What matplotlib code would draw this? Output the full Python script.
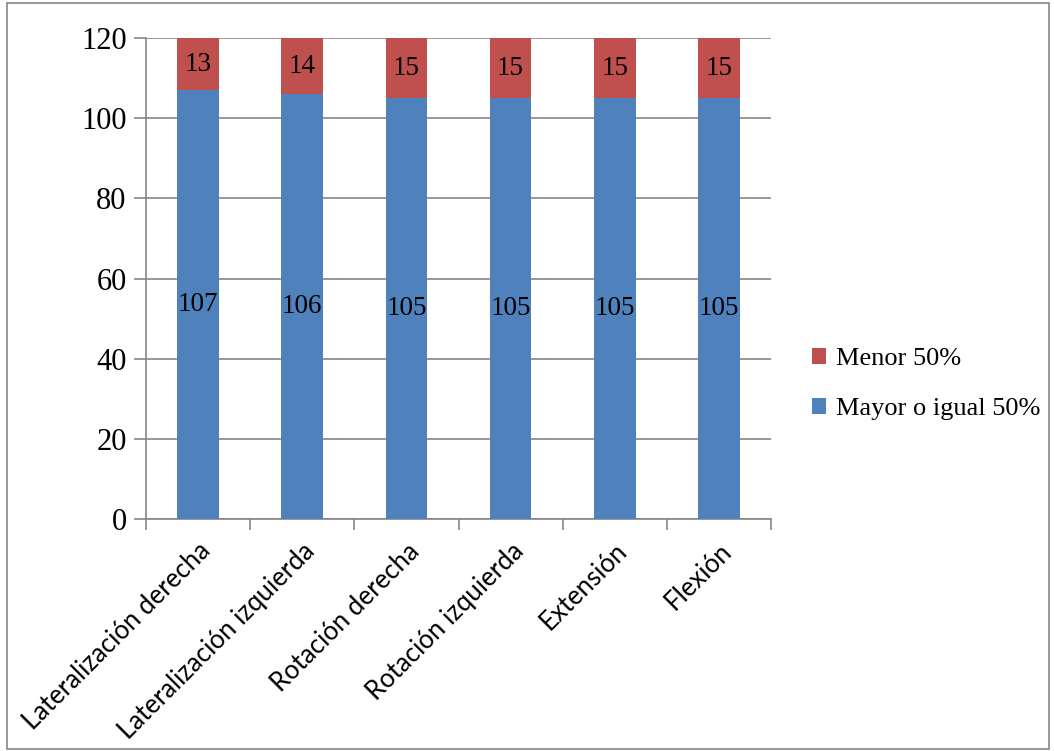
import matplotlib.pyplot as plt
import numpy as np

categorias = ['Lateralización derecha', 'Lateralización izquierda', 'Rotación derecha',
              'Rotación izquierda', 'Extensión', 'Flexión']
mayor = [107, 106, 105, 105, 105, 105]
menor = [13, 14, 15, 15, 15, 15]

azul = '#4F81BD'
rojo = '#C0504D'
gris = '#868686'

fig = plt.figure(figsize=(10.54, 7.51), dpi=100)
ax = fig.add_axes([146 / 1054, 1 - 519 / 751, (771 - 146) / 1054, (519 - 38) / 751])

x = np.arange(len(categorias))
b1 = ax.bar(x, mayor, width=0.4, color=azul, label='Mayor o igual 50%', zorder=3)
b2 = ax.bar(x, menor, width=0.4, bottom=mayor, color=rojo, label='Menor 50%', zorder=3)

serif = 'Liberation Serif'
for i in range(len(x)):
    ax.text(x[i], mayor[i] / 2, str(mayor[i]), ha='center', va='center',
            fontsize=19.5, family=serif, zorder=4)
    ax.text(x[i], mayor[i] + menor[i] / 2, str(menor[i]), ha='center', va='center',
            fontsize=19.5, family=serif, zorder=4)

ax.set_xlim(-0.5, len(x) - 0.5)
ax.set_ylim(0, 120)
ax.set_yticks(range(0, 121, 20))
ax.yaxis.grid(True, color=gris, linewidth=1.2, zorder=0)
for s in ['top', 'right']:
    ax.spines[s].set_visible(False)
for s in ['left', 'bottom']:
    ax.spines[s].set_color(gris)
    ax.spines[s].set_linewidth(1.2)

ax.tick_params(axis='y', length=9, color=gris, width=1.2, labelsize=22, pad=5)
for t in ax.get_yticklabels():
    t.set_family(serif)

# x ticks sit on category boundaries, labels at bar centres
ax.set_xticks(np.arange(-0.5, len(x), 1))
ax.set_xticklabels([])
ax.tick_params(axis='x', length=8, color=gris, width=1.2)
ax.set_xticks(x, minor=True)
ax.set_xticklabels(categorias, minor=True, rotation=45, ha='right', rotation_mode='anchor',
                   fontsize=18.5, family='Lato')
ax.tick_params(axis='x', which='minor', length=0, pad=14)

handles = [b2, b1]
leg = fig.legend(handles, ['Menor 50%', 'Mayor o igual 50%'], loc='center left',
                 bbox_to_anchor=(788 / 1054, 1 - 384 / 751), frameon=False,
                 prop={'family': serif, 'size': 19}, handlelength=0.55, handleheight=0.55,
                 handletextpad=0.35, labelspacing=1.05)

border = plt.Rectangle((7 / 1054, 2 / 751), 1042 / 1054, 746 / 751, transform=fig.transFigure,
                       fill=False, edgecolor=gris, linewidth=1.2)
fig.patches.append(border)

fig.savefig('out.png', dpi=100)
